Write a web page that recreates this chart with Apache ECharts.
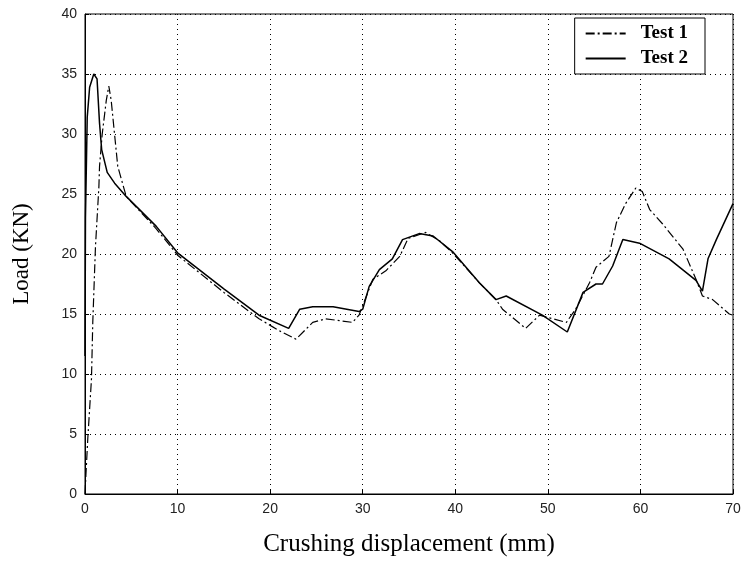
<!DOCTYPE html>
<html><head><meta charset="utf-8">
<script src="https://cdn.jsdelivr.net/npm/echarts@6/dist/echarts.min.js"></script>
<style>html,body{margin:0;padding:0;background:#fff}#c{width:745px;height:562px}</style>
</head><body><div id="c"></div>
<script>
const xTicks = [0,10,20,30,40,50,60,70];
const yTicks = [0,5,10,15,20,25,30,35,40];
const test1 = [[0,0],[0.1,1.6],[0.3,4.6],[0.7,9.6],[0.84,14.3],[1.13,20.6],[1.5,25.6],[1.57,27.3],[1.86,30.0],[2.3,32.8],[2.57,34.0],[2.83,32.8],[3.19,30.0],[3.54,27.3],[4.45,24.8],[7.7,22.1],[10,19.9],[15,16.8],[18.8,14.6],[21,13.6],[22.8,12.9],[24.6,14.3],[26.0,14.6],[28.9,14.3],[29.6,14.9],[31.1,17.9],[32.5,18.6],[34.0,19.8],[34.9,21.3],[36.8,21.8],[38.3,21.1],[39.7,20.1],[42.6,17.6],[44.4,16.2],[45.1,15.4],[47.6,13.8],[49.1,14.9],[52.0,14.3],[53.0,15.4],[54.5,17.6],[55.2,18.9],[56.6,19.8],[57.4,22.6],[58.4,24.2],[59.5,25.5],[60.2,25.2],[61.0,23.7],[62.4,22.5],[64.6,20.4],[66.0,17.9],[66.7,16.5],[67.8,16.2],[69.6,15.0],[70,14.9]];
const test2 = [[0,11.5],[0.05,23],[0.24,31.4],[0.5,33.9],[0.95,35.0],[1.3,34.6],[1.57,30.9],[1.8,28.7],[2.4,26.8],[3.2,25.9],[4.45,24.8],[7.7,22.3],[10,20.1],[15,17.1],[18.8,14.9],[22.0,13.8],[23.2,15.4],[24.6,15.6],[26.8,15.6],[29.6,15.2],[30.0,15.4],[30.7,17.3],[31.8,18.7],[33.2,19.6],[34.3,21.2],[36.1,21.7],[37.6,21.5],[39.7,20.2],[42.6,17.6],[44.4,16.2],[45.5,16.5],[49.4,14.9],[52.1,13.5],[53.8,16.8],[55.2,17.5],[55.9,17.5],[57.0,19.0],[58.1,21.2],[59.9,20.9],[63.1,19.6],[66.0,17.8],[66.7,16.9],[66.9,16.8],[67.3,19.6],[68.2,21.2],[70,24.2]];

const chart = echarts.init(document.getElementById('c'));
const tickFont = {fontFamily:'Liberation Sans', fontSize:14, color:'#222'};
const gridLine = {show:true, lineStyle:{color:'#000', type:[1,4], width:1}};
chart.setOption({
  animation:false,
  grid:{left:85, right:12, top:14, bottom:66, show:true, borderColor:'#000', borderWidth:1},
  legend:{
    data:['Test 1','Test 2'], orient:'vertical', right:40, top:18,
    backgroundColor:'#fff', borderColor:'#000', borderWidth:1, padding:[6,17,6,10],
    itemWidth:40, itemHeight:14, itemGap:6,
    itemStyle:{opacity:0},
    textStyle:{fontFamily:'Liberation Serif', fontWeight:'bold', fontSize:19, color:'#000', padding:[0,0,0,10]}
  },
  xAxis:{type:'value', min:0, max:70, interval:10,
    name:'Crushing displacement (mm)', nameLocation:'middle', nameGap:38,
    nameTextStyle:{fontFamily:'Liberation Serif', fontSize:25, color:'#000'},
    axisLine:{lineStyle:{color:'#000'}}, axisTick:{inside:true, length:4},
    axisLabel:Object.assign({margin:8}, tickFont), splitLine:gridLine},
  yAxis:{type:'value', min:0, max:40, interval:5,
    name:'Load (KN)', nameLocation:'middle', nameGap:52,
    nameTextStyle:{fontFamily:'Liberation Serif', fontSize:23, color:'#000'},
    axisLine:{show:true, lineStyle:{color:'#000'}}, axisTick:{inside:true, length:4},
    axisLabel:Object.assign({margin:8}, tickFont), splitLine:gridLine},
  series:[
    {name:'Test 1', type:'line', data:test1, symbol:'none',
     lineStyle:{color:'#000', width:1.2, type:[9,3,2,3]}, itemStyle:{color:'#000'}},
    {name:'Test 2', type:'line', data:test2, symbol:'none',
     lineStyle:{color:'#000', width:1.5, type:'solid'}, itemStyle:{color:'#000'}}
  ]
});
</script></body></html>
